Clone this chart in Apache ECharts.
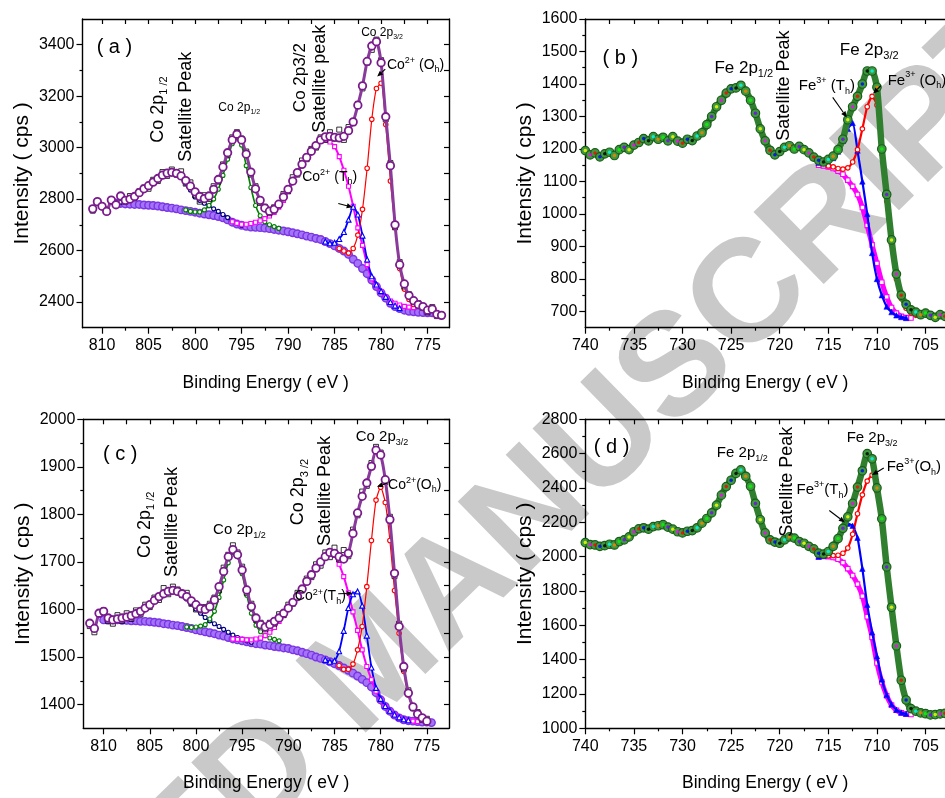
<!DOCTYPE html>
<html><head><meta charset="utf-8">
<script src="https://cdn.jsdelivr.net/npm/echarts@6/dist/echarts.min.js"></script>
<style>html,body{margin:0;padding:0;background:#fff}#chart{width:945px;height:798px}</style>
</head><body><div id="chart"></div>
<script>
// ---------- energy grids (eV) ----------
const E_CO = [811.5,811,810.5,810,809.5,809,808.5,808,807.5,807,
806.5,806,805.5,805,804.5,804,803.5,803,802.5,802,
801.5,801,800.5,800,799.5,799,798.5,798,797.5,797,
796.5,796,795.5,795,794.5,794,793.5,793,792.5,792,
791.5,791,790.5,790,789.5,789,788.5,788,787.5,787,
786.5,786,785.5,785,784.5,784,783.5,783,782.5,782,
781.5,781,780.5,780,779.5,779,778.5,778,777.5,777,
776.5,776,775.5,775,774.5,774,773.5];
const E_FE = [740,739.5,739,738.5,738,737.5,737,736.5,736,735.5,
735,734.5,734,733.5,733,732.5,732,731.5,731,730.5,
730,729.5,729,728.5,728,727.5,727,726.5,726,725.5,
725,724.5,724,723.5,723,722.5,722,721.5,721,720.5,
720,719.5,719,718.5,718,717.5,717,716.5,716,715.5,
715,714.5,714,713.5,713,712.5,712,711.5,711,710.5,
710,709.5,709,708.5,708,707.5,707,706.5,706,705.5,
705,704.5,704,703.5,703];

// ---------- tick labels ----------
const X_MAJ_CO = [775,780,785,790,795,800,805,810];
const X_MIN_CO = [777.5,782.5,787.5,792.5,797.5,802.5,807.5];
const X_MAJ_FE = [705,710,715,720,725,730,735,740];
const X_MIN_FE = [707.5,712.5,717.5,722.5,727.5,732.5,737.5];
const Y_MAJ_A = [2400,2600,2800,3000,3200,3400];
const Y_MIN_A = [2500,2700,2900,3100,3300];
const Y_MAJ_B = [700,800,900,1000,1100,1200,1300,1400,1500,1600];
const Y_MIN_B = [750,850,950,1050,1150,1250,1350,1450,1550];
const Y_MAJ_C = [1400,1500,1600,1700,1800,1900,2000];
const Y_MIN_C = [1450,1550,1650,1750,1850,1950];
const Y_MAJ_D = [1000,1200,1400,1600,1800,2000,2200,2400,2600,2800];
const Y_MIN_D = [1100,1300,1500,1700,1900,2100,2300,2500,2700];

// ---------- panel (a) Co 2p ----------
const A_FIT_FROM = 811;
const A_FIT = [2762,2790,2772,2752,2796,2778,2812,2795,2800,2810,
2825,2840,2852,2866,2880,2893,2901,2904,2900,2890,
2872,2850,2828,2810,2802,2812,2838,2876,2925,2980,
3030,3052,3030,2975,2905,2840,2795,2765,2753,2760,
2780,2808,2838,2870,2903,2935,2962,2986,3008,3030,
3042,3044,3040,3038,3044,3066,3100,3165,3240,3335,
3395,3412,3330,3120,2930,2700,2545,2470,2425,2405,
2390,2382,2368,2372,2352,2348];
const A_RAW = [2755,2785,2770,2760,2790,2785,2810,2790,2812,2805,
2830,2845,2840,2875,2870,2905,2890,2915,2895,2908,
2860,2865,2815,2790,2815,2800,2850,2868,2935,2970,
3040,3060,3035,2985,2895,2850,2785,2770,2745,2768,
2775,2820,2830,2885,2895,2950,2955,2995,3000,3040,
3030,3060,3035,3070,3030,3080,3095,3170,3230,3330,
3380,3420,3340,3110,2940,2690,2555,2460,2430,2400,
2395,2378,2360,2380,2345,2350];
const A_BG_FROM = 808.5;
const A_BG = [2785,2783,2781,2780,2779,2779,2777,2776,2775,2773,
2770,2767,2765,2762,2758,2755,2752,2749,2745,2742,
2739,2736,2732,2727,2719,2710,2703,2698,2694,2691,
2690,2689,2687,2685,2682,2679,2676,2673,2669,2665,
2661,2656,2652,2647,2643,2635,2627,2618,2608,2598,
2585,2566,2550,2530,2510,2485,2460,2435,2415,2395,
2382,2374,2368,2364,2362,2360,2359,2358,2358];
const A_NAVY_FROM = 808;
const A_NAVY = [2788,2792,2800,2810,2824,2838,2850,2865,2878,2890,2898,2902,2898,2885,2862,2835,2808,2795,2784,2774,2762,2752,2740,2728,2714,2705,2698];
const A_GREEN_FROM = 801;
const A_GREEN = [2758,2752,2750,2750,2758,2775,2800,2838,2892,2955,3015,3040,3010,2930,2845,2775,2735,2712,2700,2693,2686];
const A_MAG_FROM = 796;
const A_MAG = [2712,2706,2702,2702,2705,2710,2716,2724,2734,2748,
2768,2795,2830,2865,2900,2932,2960,2985,3006,3024,
3030,3022,3004,2965,2912,2850,2772,2688,2620,2545,
2490,2462,2440,2420,2404,2395,2388,2383,2380,2378];
const A_BLUE_FROM = 786;
const A_BLUE = [2635,2628,2630,2645,2672,2720,2770,2740,2658,2565,2500,2468,2442,2420,2400,2386,2376];
const A_RED_FROM = 784.5;
const A_RED = [2608,2598,2590,2608,2660,2760,2920,3110,3230,3250,3090,2870,2690,2530,2450,2410,2390,2384];

// ---------- panel (c) Co 2p ----------
const C_FIT_FROM = 811.5;
const C_FIT = [1571,1560,1592,1596,1582,1578,1580,1582,1584,1587,
1591,1596,1603,1610,1619,1627,1633,1638,1640,1638,
1633,1627,1618,1610,1602,1600,1606,1620,1648,1680,
1711,1726,1715,1683,1641,1606,1582,1568,1563,1568,
1575,1582,1592,1603,1615,1627,1643,1659,1673,1687,
1700,1711,1720,1718,1711,1706,1718,1760,1803,1838,
1866,1901,1935,1925,1873,1789,1676,1564,1480,1424,
1395,1380,1372,1365];
const C_RAW = [1565,1552,1590,1598,1575,1570,1588,1576,1592,1580,
1598,1590,1610,1605,1625,1620,1645,1632,1648,1642,
1630,1635,1612,1600,1598,1605,1612,1625,1640,1688,
1715,1735,1720,1690,1635,1612,1578,1572,1558,1572,
1570,1590,1588,1610,1612,1635,1640,1665,1668,1695,
1692,1720,1710,1730,1705,1725,1712,1768,1798,1848,
1860,1908,1942,1930,1868,1795,1670,1570,1475,1430,
1392,1384,1368,1370];
const C_BG_FROM = 810;
const C_BG = [1578,1578,1578,1578,1577,1577,1576,1576,1575,1575,
1574,1573,1572,1570,1569,1567,1566,1564,1562,1560,
1557,1555,1553,1551,1549,1546,1544,1541,1538,1536,
1534,1532,1530,1528,1527,1525,1524,1522,1521,1519,
1518,1515,1513,1510,1507,1504,1500,1497,1494,1490,
1486,1482,1477,1472,1466,1460,1453,1446,1437,1425,
1410,1396,1386,1378,1372,1368,1366,1365,1364,1363,
1363,1362];
const C_NAVY_FROM = 808;
const C_NAVY = [1582,1584,1587,1591,1596,1603,1610,1618,1626,1632,1637,1639,1636,1630,1622,1612,1601,1592,1583,1576,1570,1564,1558,1552,1546,1541,1537,1534,1531];
const C_GREEN_FROM = 801;
const C_GREEN = [1563,1562,1563,1565,1568,1580,1596,1625,1662,1698,1720,1712,1675,1630,1592,1567,1553,1545,1540,1537,1534];
const C_MAG_FROM = 796;
const C_MAG = [1538,1537,1537,1536,1536,1538,1540,1545,1552,1562,
1575,1588,1603,1615,1627,1643,1659,1673,1687,1700,
1711,1716,1714,1695,1669,1635,1595,1556,1515,1480,
1452,1428,1410,1396,1386,1378,1372,1368,1366,1365,1364];
const C_BLUE_FROM = 786;
const C_BLUE = [1494,1490,1492,1512,1555,1603,1632,1638,1608,1545,1478,1435,1412,1397,1387,1379,1373,1369,1367];
const C_RED_FROM = 784.5;
const C_RED = [1482,1474,1474,1485,1515,1564,1648,1745,1830,1857,1825,1745,1640,1550,1470,1420,1392,1378,1370];

// ---------- panel (b) Fe 2p ----------
const B_RAW = [1195,1182,1188,1176,1185,1190,1180,1198,1205,1198,
1212,1220,1232,1225,1238,1230,1236,1225,1238,1224,
1218,1230,1226,1240,1250,1275,1300,1330,1350,1372,
1385,1388,1396,1378,1350,1310,1262,1225,1196,1182,
1192,1205,1210,1200,1208,1198,1188,1175,1165,1160,
1168,1178,1198,1230,1290,1330,1362,1400,1440,1440,
1390,1200,1060,920,815,750,722,705,698,690,
695,688,682,690,685];
const B_BLUE_FROM = 716;
const B_BLUE = [1158,1157,1160,1172,1192,1225,1262,1280,1195,1100,1000,880,800,750,715,698,688,683,680];
const B_RED_FROM = 715;
const B_RED = [1148,1145,1140,1138,1142,1160,1198,1262,1330,1362,1335,1185,1040,905,800,740,710,695,688];
const B_MAG_FROM = 716;
const B_MAG = [1150,1148,1145,1140,1132,1122,1104,1085,1060,1020,965,905,848,790,745,712,695,685,681,680];

// ---------- panel (d) Fe 2p ----------
const D_RAW = [2082,2070,2068,2060,2064,2072,2068,2088,2098,2115,
2145,2162,2168,2160,2175,2180,2186,2172,2160,2145,
2138,2148,2152,2168,2195,2222,2255,2300,2358,2408,
2445,2485,2505,2468,2410,2310,2215,2138,2098,2085,
2078,2098,2115,2108,2088,2078,2060,2045,2020,2015,
2030,2060,2105,2165,2232,2310,2405,2500,2600,2570,
2400,2220,1940,1705,1480,1280,1165,1115,1100,1090,
1085,1078,1080,1084,1087];
const D_BLUE_FROM = 716;
const D_BLUE = [2000,2005,2025,2060,2105,2160,2192,2180,2110,1930,1720,1560,1420,1285,1195,1140,1108,1092,1085];
const D_RED_FROM = 715;
const D_RED = [2005,2006,2008,2020,2050,2130,2250,2360,2440,2475,2380,2190,1920,1690,1465,1270,1160,1110,1092];
const D_MAG_FROM = 716;
const D_MAG = [2000,2001,2000,1995,1985,1965,1930,1890,1840,1770,1650,1530,1380,1270,1190,1135,1105,1090,1083,1080];

// ---------- annotations (positions in data units) ----------
const NOTES_A = [
  {t:'( a )', e:808.67, v:3388, s:20},
  {t:'{m|Co 2p}{s|1 /2}', e:803.95, v:3148, s:18, rot:90},
  {t:'Satellite Peak', e:800.95, v:3159, s:18, rot:90},
  {t:'{m|Co 2p}{s|1/2}', e:795.25, v:3155, s:12},
  {t:'Co 2p3/2', e:788.7, v:3272, s:17, rot:90},
  {t:'Satellite peak', e:786.55, v:3268, s:18, rot:90},
  {t:'{m|Co 2p}{s|3/2}', e:779.9, v:3447, s:12},
  {t:'{m|Co}{u|2+}{m| (O}{s|h}{m|)}', e:779.37, v:3322, s:14, left:true},
  {t:'{m|Co}{u|2+}{m| (T}{s|h}{m|)}', e:788.48, v:2884, s:14, left:true}
];
const ARROWS_A = [[779.55,3305,780.42,3276],[784.6,2783,783.05,2768]];
const NOTES_B = [
  {t:'( b )', e:736.4, v:1478, s:20},
  {t:'{m|Fe 2p}{s|1/2}', e:723.7, v:1447, s:17},
  {t:'Satellite Peak', e:719.6, v:1395, s:18, rot:90},
  {t:'{m|Fe 2p}{s|3/2}', e:710.8, v:1503, s:17},
  {t:'{m|Fe}{u|3+}{m| (T}{s|h}{m|)}', e:715.15, v:1395, s:15},
  {t:'{m|Fe}{u|3+}{m| (O}{s|h}{m|)}', e:708.9, v:1411, s:15, left:true}
];
const ARROWS_B = [[714.55,1359,713.1,1297],[709.6,1395,710.4,1370]];
const NOTES_C = [
  {t:'( c )', e:808.2, v:1925, s:20},
  {t:'{m|Co 2p}{s|1 /2}', e:805.5, v:1778, s:18, rot:90},
  {t:'Satellite Peak', e:802.55, v:1784, s:18, rot:90},
  {t:'{m|Co 2p}{s|1/2}', e:795.3, v:1768, s:15},
  {t:'{m|Co 2p}{s|3 /2}', e:788.9, v:1847, s:18, rot:90},
  {t:'Satellite Peak', e:786.0, v:1849, s:18, rot:90},
  {t:'{m|Co 2p}{s|3/2}', e:779.85, v:1963, s:15},
  {t:'{m|Co}{u|2+}{m|(O}{s|h}{m|)}', e:779.2, v:1862, s:14, left:true},
  {t:'{m|Co}{u|2+}{m|(T}{s|h}{m|)}', e:789.3, v:1627, s:14, left:true}
];
const ARROWS_C = [[779.3,1866,780.4,1858],[784.6,1633,783.0,1634]];
const NOTES_D = [
  {t:'( d )', e:737.3, v:2633, s:20},
  {t:'{m|Fe 2p}{s|1/2}', e:723.85, v:2605, s:15},
  {t:'Satellite Peak', e:719.2, v:2436, s:18, rot:90},
  {t:'{m|Fe 2p}{s|3/2}', e:710.5, v:2691, s:15},
  {t:'{m|Fe}{u|3+}{m|(T}{s|h}{m|)}', e:715.6, v:2388, s:15},
  {t:'{m|Fe}{u|3+}{m|(O}{s|h}{m|)}', e:709.0, v:2522, s:15, left:true}
];
const ARROWS_D = [[714.9,2269,713.3,2199],[709.3,2516,710.5,2475]];

// ---------- helpers ----------
const FONT = "'Liberation Sans', Arial, Helvetica, sans-serif";
const DOT_COLORS = ['#ffff00','#ff00ff','#ff0000','#0000ff','#000000','#00ffff','#ff8000','#00ff00','#8000ff'];
function pair(E, from, vals) {
  const i0 = E.indexOf(from);
  return vals.map((v, k) => [E[i0 + k], v]);
}

const PANELS = [
  {box:{left:82.5, top:19, width:366.5, height:308.7}, xr:[772.7,812.1], yr:[2300,3500],
   xMaj:X_MAJ_CO, xMin:X_MIN_CO, yMaj:Y_MAJ_A, yMin:Y_MIN_A, right:true, kind:'co',
   fit:pair(E_CO,A_FIT_FROM,A_FIT), raw:pair(E_CO,A_FIT_FROM,A_RAW), bg:pair(E_CO,A_BG_FROM,A_BG),
   navy:pair(E_CO,A_NAVY_FROM,A_NAVY), green:pair(E_CO,A_GREEN_FROM,A_GREEN), mag:pair(E_CO,A_MAG_FROM,A_MAG),
   blue:pair(E_CO,A_BLUE_FROM,A_BLUE), red:pair(E_CO,A_RED_FROM,A_RED), notes:NOTES_A, arrows:ARROWS_A},
  {box:{left:585.3, top:19, width:359.7, height:308.7}, xr:[703,740], yr:[650,1600],
   xMaj:X_MAJ_FE, xMin:X_MIN_FE, yMaj:Y_MAJ_B, yMin:Y_MIN_B, right:false, kind:'fe',
   raw:pair(E_FE,740,B_RAW), mag:pair(E_FE,B_MAG_FROM,B_MAG), blue:pair(E_FE,B_BLUE_FROM,B_BLUE),
   red:pair(E_FE,B_RED_FROM,B_RED), notes:NOTES_B, arrows:ARROWS_B},
  {box:{left:83.3, top:419.3, width:365.7, height:309}, xr:[772.6,812.2], yr:[1350,2000],
   xMaj:X_MAJ_CO, xMin:X_MIN_CO, yMaj:Y_MAJ_C, yMin:Y_MIN_C, right:true, kind:'co',
   fit:pair(E_CO,C_FIT_FROM,C_FIT), raw:pair(E_CO,C_FIT_FROM,C_RAW), bg:pair(E_CO,C_BG_FROM,C_BG),
   navy:pair(E_CO,C_NAVY_FROM,C_NAVY), green:pair(E_CO,C_GREEN_FROM,C_GREEN), mag:pair(E_CO,C_MAG_FROM,C_MAG),
   blue:pair(E_CO,C_BLUE_FROM,C_BLUE), red:pair(E_CO,C_RED_FROM,C_RED), notes:NOTES_C, arrows:ARROWS_C},
  {box:{left:585.3, top:419.3, width:359.7, height:309}, xr:[703,740], yr:[1000,2800],
   xMaj:X_MAJ_FE, xMin:X_MIN_FE, yMaj:Y_MAJ_D, yMin:Y_MIN_D, right:false, kind:'fe',
   raw:pair(E_FE,740,D_RAW), mag:pair(E_FE,D_MAG_FROM,D_MAG), blue:pair(E_FE,D_BLUE_FROM,D_BLUE),
   red:pair(E_FE,D_RED_FROM,D_RED), notes:NOTES_D, arrows:ARROWS_D}
];

const option = {animation:false, backgroundColor:'#ffffff', grid:[], xAxis:[], yAxis:[], series:[]};
const AXLINE = {show:true, onZero:false, lineStyle:{color:'#000', width:1.4}};
const NOLINE = {show:false, onZero:false};
function ticks(vals, len, inside) { return {show:true, customValues:vals, length:len, inside:inside, lineStyle:{color:'#000', width:1.2}}; }
const NOLABEL = {show:false};
const fmt = v => String(v);

PANELS.forEach((p, gi) => {
  option.grid.push(Object.assign({containLabel:false, outerBoundsMode:'none'}, p.box));
  p.xi = option.xAxis.length; p.yi = option.yAxis.length;
  const xb = {type:'value', gridIndex:gi, min:p.xr[0], max:p.xr[1], inverse:true, splitLine:{show:false}, silent:true};
  option.xAxis.push(
    Object.assign({}, xb, {position:'bottom', axisLine:AXLINE, axisTick:ticks(p.xMaj,6,false),
      axisLabel:{show:true, customValues:p.xMaj, formatter:fmt, margin:10, fontSize:16, fontFamily:FONT, color:'#000'},
      name:'Binding Energy ( eV )', nameLocation:'middle', nameGap:46,
      nameTextStyle:{fontSize:17.5, fontFamily:FONT, color:'#000'}}),
    Object.assign({}, xb, {position:'bottom', axisLine:NOLINE, axisTick:ticks(p.xMin,3,false), axisLabel:NOLABEL}),
    Object.assign({}, xb, {position:'top', axisLine:AXLINE, axisTick:ticks(p.xMaj.concat(p.xMin),5,true), axisLabel:NOLABEL})
  );
  const yb = {type:'value', gridIndex:gi, min:p.yr[0], max:p.yr[1], splitLine:{show:false}, silent:true};
  option.yAxis.push(
    Object.assign({}, yb, {position:'left', axisLine:AXLINE, axisTick:ticks(p.yMaj,6,false),
      axisLabel:{show:true, customValues:p.yMaj, formatter:fmt, margin:8, fontSize:16, fontFamily:FONT, color:'#000'},
      name:'Intensity ( cps )', nameLocation:'middle', nameGap:50,
      nameTextStyle:{fontSize:21, fontFamily:FONT, color:'#000'}}),
    Object.assign({}, yb, {position:'left', axisLine:NOLINE, axisTick:ticks(p.yMin,3,false), axisLabel:NOLABEL})
  );
  if (p.right) {
    option.yAxis.push(Object.assign({}, yb, {position:'right', axisLine:AXLINE, axisTick:ticks(p.yMaj.concat(p.yMin),5,true), axisLabel:NOLABEL}));
  }

  const base = {xAxisIndex:p.xi, yAxisIndex:p.yi, silent:true, animation:false, clip:true};
  const line = (data, color, symbol, size, lw, fill, bw, z, lineColor) => Object.assign({}, base, {
    type:'line', data, symbol, symbolSize:size, showSymbol:true, smooth:0.2, z,
    lineStyle:{color:lineColor || color, width:lw}, itemStyle:{color:fill, borderColor:color, borderWidth:bw}});
  if (p.kind === 'co') {
    option.series.push(
      line(p.bg, '#7b34e6', 'circle', 7.5, 6, '#a474f7', 1.4, 2, '#8a48ee'),
      line(p.navy, '#000080', 'circle', 4, 1.6, '#ffffff', 1.1, 3),
      line(p.green, '#008000', 'circle', 4, 1.6, '#ffffff', 1.1, 3),
      line(p.mag, '#ff00ff', 'rect', 4, 2, '#ffffff', 1.1, 3),
      line(p.blue, '#0000ff', 'triangle', 5, 1.8, '#ffffff', 1.1, 3),
      line(p.red, '#ff0000', 'circle', 4.5, 1.2, '#ffffff', 1.1, 3),
      Object.assign({}, base, {type:'scatter', data:p.raw, symbol:'rect', symbolSize:5, z:4,
        itemStyle:{color:'rgba(255,255,255,0)', borderColor:'#000', borderWidth:1}}),
      line(p.fit, '#7b1a8c', 'circle', 7.5, 3, '#ffffff', 1.8, 5, '#8a3a9a')
    );
  } else {
    option.series.push(
      line(p.mag, '#ff00ff', 'rect', 4.5, 5, '#ffffff', 1.1, 2),
      line(p.blue, '#0000ff', 'triangle', 5.5, 2.2, '#0000ff', 0.5, 3),
      line(p.red, '#ff0000', 'circle', 4.5, 2.2, '#ffffff', 1.1, 3),
      line(p.raw, '#1a5c1a', 'circle', 8.5, 6.5, '#3f9a3f', 1.2, 4, '#2f7f2f'),
      Object.assign({}, base, {type:'scatter', symbol:'circle', symbolSize:3.5, z:5,
        data:p.raw.map((d, i) => ({value:d, itemStyle:{color:DOT_COLORS[i % DOT_COLORS.length]}}))})
    );
  }
});

const chart = echarts.init(document.getElementById('chart'), null, {renderer:'canvas', width:945, height:798});
chart.setOption(option);

// ---------- annotations, arrows, watermark ----------
const graphics = [];
graphics.push({type:'text', x:377, y:665, rotation:44.4*Math.PI/180, z:-10, silent:true,
  style:{text:'ACCEPTED MANUSCRIPT', fontSize:146, fontWeight:'bold', fontFamily:FONT,
    fill:'#c9c9c9', align:'center', verticalAlign:'middle'}});

PANELS.forEach(p => {
  const toPx = (e, v) => chart.convertToPixel({xAxisIndex:p.xi, yAxisIndex:p.yi}, [e, v]);
  p.notes.forEach(n => {
    const pt = toPx(n.e, n.v);
    const sub = Math.round(n.s * 0.62);
    graphics.push({type:'text', x:pt[0], y:pt[1], rotation:(n.rot || 0) * Math.PI / 180, z:50, silent:true,
      style:{text:n.t, fontSize:n.s, fontFamily:FONT, fill:'#000',
        align:n.left ? 'left' : 'center', verticalAlign:'middle',
        rich:{
          m:{fontSize:n.s, fontFamily:FONT, fill:'#000', lineHeight:Math.round(n.s*1.3), verticalAlign:'middle'},
          s:{fontSize:sub, fontFamily:FONT, fill:'#000', lineHeight:sub, verticalAlign:'bottom'},
          u:{fontSize:sub, fontFamily:FONT, fill:'#000', lineHeight:sub, verticalAlign:'top'}
        }}});
  });
  p.arrows.forEach(a => {
    const p0 = toPx(a[0], a[1]), p1 = toPx(a[2], a[3]);
    const dx = p1[0]-p0[0], dy = p1[1]-p0[1], L = Math.hypot(dx, dy) || 1;
    const ux = dx/L, uy = dy/L, nx = -uy, ny = ux;
    const bx = p1[0]-ux*6, by = p1[1]-uy*6;
    graphics.push({type:'line', z:50, silent:true, shape:{x1:p0[0], y1:p0[1], x2:bx, y2:by}, style:{stroke:'#000', lineWidth:1.1}});
    graphics.push({type:'polygon', z:50, silent:true, shape:{points:[[p1[0],p1[1]],[bx+nx*2.6,by+ny*2.6],[bx-nx*2.6,by-ny*2.6]]}, style:{fill:'#000'}});
  });
});
chart.setOption({graphic:graphics});
</script>
</body></html>
